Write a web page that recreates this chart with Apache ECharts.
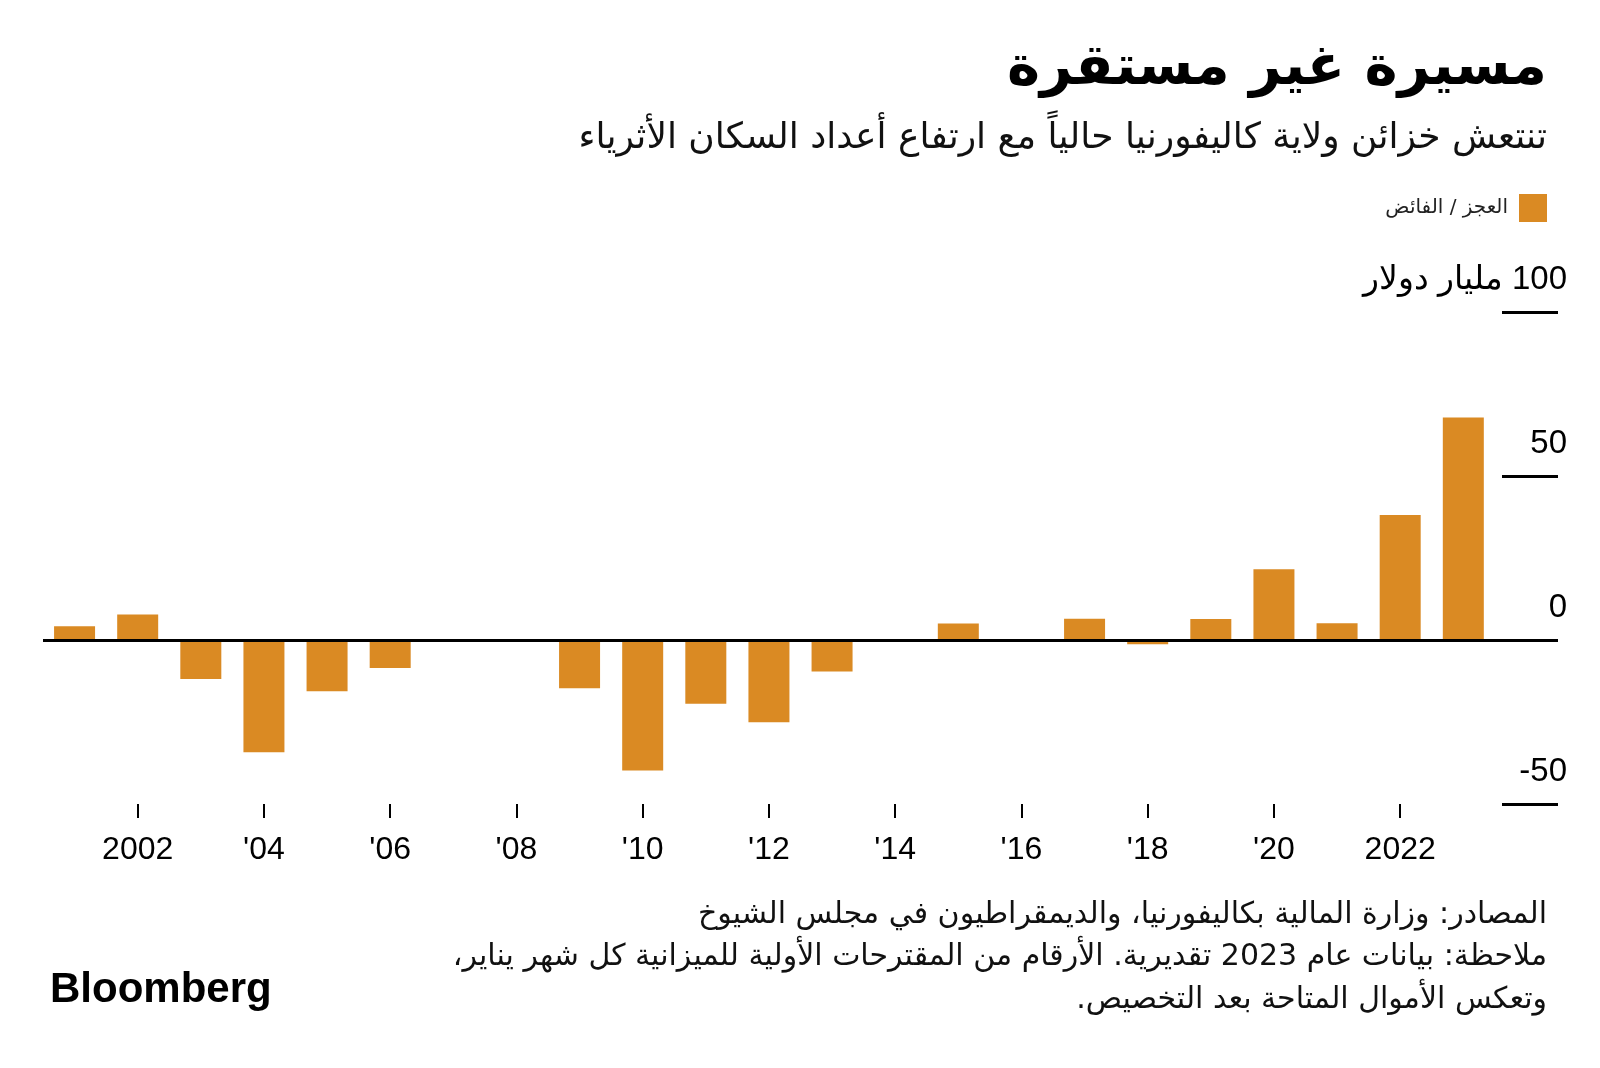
<!DOCTYPE html>
<html>
<head>
<meta charset="utf-8">
<script src="https://cdn.jsdelivr.net/npm/echarts@6/dist/echarts.min.js"></script>
<style>
  html, body { margin: 0; padding: 0; background: #fff; }
  #chart { width: 1600px; height: 1068px; }
</style>
</head>
<body>
<div id="chart"></div>
<script>
// ---- Data ----
const years = [2001, 2002, 2003, 2004, 2005, 2006, 2007, 2008, 2009, 2010, 2011, 2012,
               2013, 2014, 2015, 2016, 2017, 2018, 2019, 2020, 2021, 2022, 2023];
const balance = [4.2, 7.8, -11.9, -34.2, -15.6, -8.5, null, null, -14.7, -39.8, -19.4, -25.1,
                 -9.6, null, 5.0, null, 6.5, -1.3, 6.4, 21.6, 5.1, 38.1, 67.8];
const xTickYears = [2002, 2004, 2006, 2008, 2010, 2012, 2014, 2016, 2018, 2020, 2022];
const xTickLabels = ['2002', "'04", "'06", "'08", "'10", "'12", "'14", "'16", "'18", "'20", '2022'];
const yTickValues = [-50, 0, 50, 100];
const yTickLabels = ['-50', '0', '50', '100 مليار دولار'];

const titleText = 'مسيرة غير مستقرة';
const subtitleText = 'تنتعش خزائن ولاية كاليفورنيا حالياً مع ارتفاع أعداد السكان الأثرياء';
const seriesName = 'العجز / الفائض';
const footLines = [
  'المصادر: وزارة المالية بكاليفورنيا، والديمقراطيون في مجلس الشيوخ',
  'ملاحظة: بيانات عام 2023 تقديرية. الأرقام من المقترحات الأولية للميزانية كل شهر يناير،',
  'وتعكس الأموال المتاحة بعد التخصيص.'
];

// ---- Helpers ----
const rtl = s => '\u202B' + s + '\u202C';
const AR = '"DejaVu Sans", sans-serif';
const LAT = '"Liberation Sans", Arial, sans-serif';
const BAR = '#DA8A23';

const footTitles = footLines.map((line, i) => ({
  text: rtl(line), right: 53, top: 893 + i * 42.5, padding: 0,
  textStyle: { fontFamily: AR, fontSize: 30, fontWeight: 'normal', color: '#111', lineHeight: 44 }
}));

const chart = echarts.init(document.getElementById('chart'), null, { renderer: 'canvas' });

chart.setOption({
  backgroundColor: '#ffffff',
  animation: false,
  title: [
    {
      text: rtl(titleText), right: 53, top: 37, padding: 0,
      textStyle: { fontFamily: AR, fontSize: 56, fontWeight: 'bold', color: '#000', lineHeight: 64 }
    },
    {
      text: rtl(subtitleText), right: 53, top: 118, padding: 0,
      textStyle: { fontFamily: AR, fontSize: 36, fontWeight: 'normal', color: '#111', lineHeight: 42 }
    },
    ...footTitles,
    {
      text: 'Bloomberg', left: 50, top: 964, padding: 0,
      textStyle: { fontFamily: LAT, fontSize: 42, fontWeight: 'bold', color: '#000', lineHeight: 52 }
    }
  ],
  legend: {
    data: [rtl(seriesName)],
    right: 53, top: 194, padding: 0,
    align: 'right',
    icon: 'rect',
    itemWidth: 28, itemHeight: 28,
    textStyle: { fontFamily: AR, fontSize: 20, color: '#222', padding: [0, 6, 0, 0] }
  },
  grid: { left: 43, right: 42, top: 312, bottom: 264 },
  xAxis: {
    type: 'value',
    min: 2000.5, max: 2024.5,
    axisLine: { show: false, onZero: false },
    splitLine: { show: false },
    axisTick: {
      show: true, length: 14, customValues: xTickYears,
      lineStyle: { color: '#000', width: 2 }
    },
    axisLabel: {
      customValues: xTickYears,
      margin: 30,
      fontFamily: LAT, fontSize: 32, color: '#000',
      formatter: v => xTickLabels[xTickYears.indexOf(Math.round(v))] || ''
    }
  },
  yAxis: {
    type: 'value',
    position: 'right',
    min: -50, max: 100, interval: 50,
    axisLine: { show: false },
    splitLine: { show: false },
    axisTick: { show: true, inside: true, length: 56, lineStyle: { color: '#000', width: 3 } },
    axisLabel: {
      inside: true, margin: -9, align: 'right', verticalAlign: 'bottom',
      padding: [0, 0, 16, 0],
      fontFamily: LAT, fontSize: 33, color: '#000',
      formatter: v => {
        const i = yTickValues.indexOf(v);
        if (i < 0) return '';
        return i === yTickValues.length - 1 ? rtl(yTickLabels[i]) : yTickLabels[i];
      }
    }
  },
  series: [{
    name: rtl(seriesName),
    type: 'bar',
    barWidth: 41,
    itemStyle: { color: BAR },
    data: years.map((y, i) => [y, balance[i]]),
    markLine: {
      silent: true, symbol: 'none',
      label: { show: false },
      lineStyle: { color: '#000', width: 3, type: 'solid' },
      data: [{ yAxis: 0 }]
    }
  }]
});
</script>
</body>
</html>
